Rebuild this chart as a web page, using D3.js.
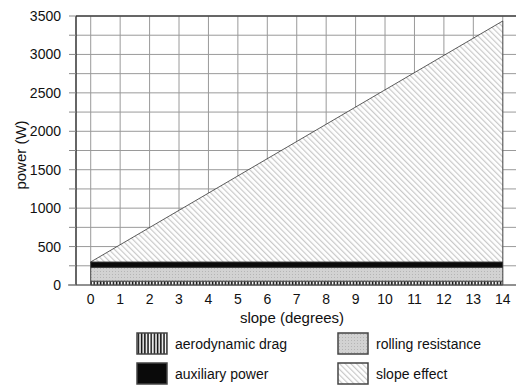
<!DOCTYPE html>
<html>
<head>
<meta charset="utf-8">
<script src="https://cdn.jsdelivr.net/npm/d3@7"></script>
<style>
  body { margin: 0; background: #fff; }
  svg text { font-family: "Liberation Sans", Arial, sans-serif; fill: #111; }
</style>
</head>
<body>
<svg class="chart"></svg>
<script>
var WIDTH = 516;
var HEIGHT = 389;

// data
var slopes = [0, 14];
var aeroDrag = [50, 50];
var rollingRes = [180, 180];
var auxPower = [70, 70];
var slopeEffect = [0, 3135];
var xTicks = d3.range(0, 15);
var yTicks = [0, 500, 1000, 1500, 2000, 2500, 3000, 3500];
var yGrid = d3.range(0, 3501, 250);
var keys = ["aero", "rolling", "aux", "slope"];
var labels = ["aerodynamic drag", "rolling resistance", "auxiliary power", "slope effect"];

var rows = slopes.map(function(s, i) {
  return { x: s, aero: aeroDrag[i], rolling: rollingRes[i], aux: auxPower[i], slope: slopeEffect[i] };
});

var svg = d3.select(".chart").attr("width", WIDTH).attr("height", HEIGHT);

var x = d3.scaleLinear().domain([-0.5, 14.45]).range([76, 516]);
var y = d3.scaleLinear().domain([0, 3500]).range([285, 16]);

// patterns
var defs = svg.append("defs");
var p1 = defs.append("pattern").attr("id", "p-aero")
  .attr("patternUnits", "userSpaceOnUse").attr("width", 3.2).attr("height", 4);
p1.append("rect").attr("width", 3.2).attr("height", 4).attr("fill", "#fff");
p1.append("rect").attr("x", 0.6).attr("width", 1.6).attr("height", 4).attr("fill", "#111");

var p2 = defs.append("pattern").attr("id", "p-rolling")
  .attr("patternUnits", "userSpaceOnUse").attr("width", 3).attr("height", 3);
p2.append("rect").attr("width", 3).attr("height", 3).attr("fill", "#d2d2d2");
p2.append("rect").attr("x", 1).attr("y", 1).attr("width", 1).attr("height", 1).attr("fill", "#b5b5b5");

var p3 = defs.append("pattern").attr("id", "p-slope")
  .attr("patternUnits", "userSpaceOnUse").attr("width", 4).attr("height", 4)
  .attr("patternTransform", "rotate(-45)");
p3.append("rect").attr("width", 4).attr("height", 4).attr("fill", "#fff");
p3.append("rect").attr("width", 1.2).attr("height", 4).attr("fill", "#c9c9c9");

var fills = { aero: "url(#p-aero)", rolling: "url(#p-rolling)", aux: "#0a0a0a", slope: "url(#p-slope)" };

// grid
svg.append("g").selectAll("line").data(yGrid).enter().append("line")
  .attr("x1", x(-0.5)).attr("x2", WIDTH)
  .attr("y1", function(d) { return y(d); }).attr("y2", function(d) { return y(d); })
  .attr("stroke", "#9a9a9a").attr("stroke-width", 1);

svg.append("g").selectAll("line").data(xTicks).enter().append("line")
  .attr("x1", function(d) { return x(d); }).attr("x2", function(d) { return x(d); })
  .attr("y1", y(3500)).attr("y2", y(0))
  .attr("stroke", "#9a9a9a").attr("stroke-width", 1);

// stacked areas
var stack = d3.stack().keys(keys);
var series = stack(rows);
var area = d3.area()
  .x(function(d) { return x(d.data.x); })
  .y0(function(d) { return y(d[0]); })
  .y1(function(d) { return y(d[1]); });

svg.append("g").selectAll("path").data(series).enter().append("path")
  .attr("d", area)
  .attr("fill", function(d) { return fills[d.key]; })
  .attr("stroke", "#333").attr("stroke-width", 0.8);

// frame / axes
svg.append("line").attr("x1", x(-0.5)).attr("x2", WIDTH)
  .attr("y1", y(3500)).attr("y2", y(3500)).attr("stroke", "#444").attr("stroke-width", 1.3);
svg.append("line").attr("x1", x(-0.5)).attr("x2", x(-0.5))
  .attr("y1", y(3500)).attr("y2", y(0)).attr("stroke", "#333").attr("stroke-width", 1.5);
svg.append("line").attr("x1", 68).attr("x2", WIDTH)
  .attr("y1", y(0)).attr("y2", y(0)).attr("stroke", "#555").attr("stroke-width", 1);

// y ticks
svg.append("g").selectAll("line").data(yGrid).enter().append("line")
  .attr("x1", 69).attr("x2", x(-0.5))
  .attr("y1", function(d) { return y(d); }).attr("y2", function(d) { return y(d); })
  .attr("stroke", "#888");

svg.append("g").selectAll("text").data(yTicks).enter().append("text")
  .attr("x", 61).attr("y", function(d) { return y(d) + 5; })
  .attr("text-anchor", "end").attr("font-size", 14)
  .text(function(d) { return d; });

svg.append("g").selectAll("text").data(xTicks).enter().append("text")
  .attr("x", function(d) { return x(d); }).attr("y", 304)
  .attr("text-anchor", "middle").attr("font-size", 14)
  .text(function(d) { return d; });

svg.append("text").attr("x", 292).attr("y", 323)
  .attr("text-anchor", "middle").attr("font-size", 15)
  .text("slope (degrees)");

svg.append("text")
  .attr("transform", "translate(26,155) rotate(-90)")
  .attr("text-anchor", "middle").attr("font-size", 15)
  .text("power (W)");

// legend
var legendPos = [[137, 333], [338, 333], [137, 363], [338, 363]];
var legendKeys = ["aero", "rolling", "aux", "slope"];
var legend = svg.append("g").selectAll("g").data(legendKeys).enter().append("g")
  .attr("transform", function(d, i) { return "translate(" + legendPos[i][0] + "," + legendPos[i][1] + ")"; });
legend.append("rect").attr("width", 30).attr("height", 21)
  .attr("fill", function(d) { return fills[d]; })
  .attr("stroke", "#444").attr("stroke-width", 1.5);
legend.append("text").attr("x", 38).attr("y", 16).attr("font-size", 14)
  .text(function(d, i) { return labels[i]; });
</script>
</body>
</html>
